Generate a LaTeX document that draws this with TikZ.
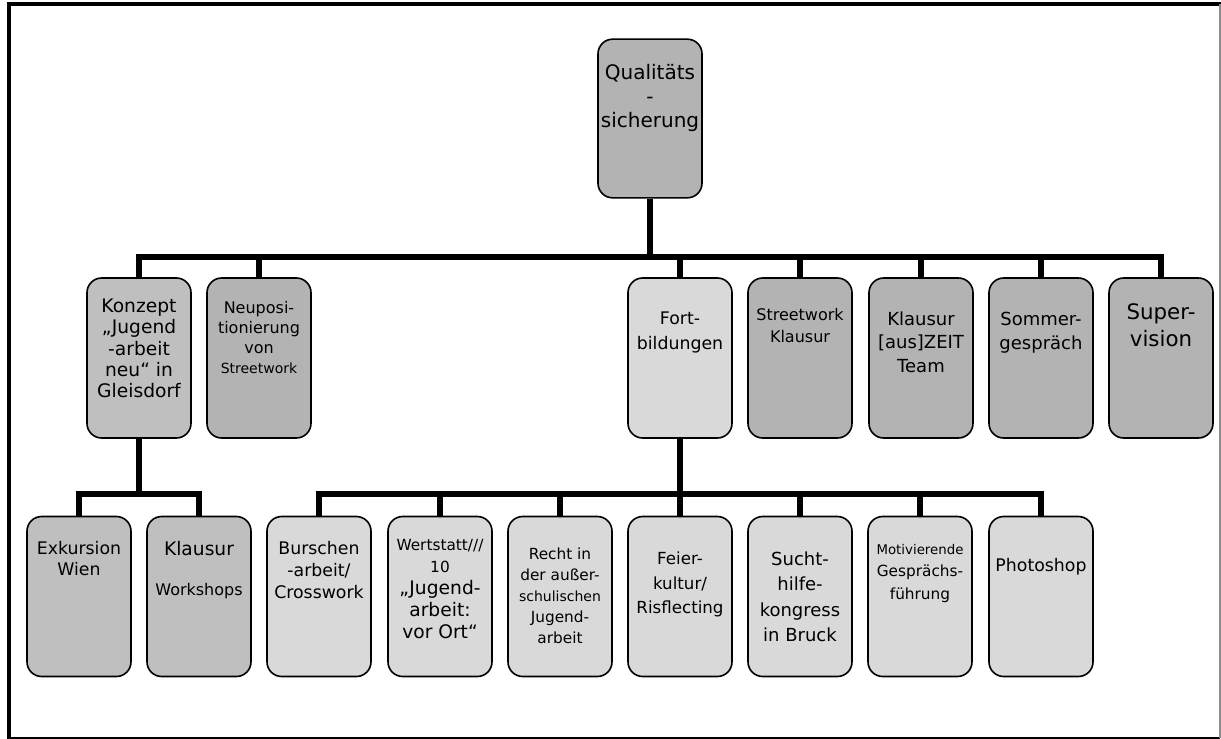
\documentclass[tikz,border=0pt]{standalone}
\usepackage{fontspec}
\setmainfont{DejaVu Sans}
\usetikzlibrary{positioning}
\definecolor{BoxDark}{HTML}{B3B3B3}
\definecolor{BoxMid}{HTML}{BFBFBF}
\definecolor{BoxLight}{HTML}{D9D9D9}
\newcommand{\fsz}[2]{\fontsize{#1}{#2}\selectfont}
\newcommand{\tstrut}{\rule{0pt}{16pt}}
\tikzset{
    % Box styles - rounded, all the same size
    orgbox/.style={
        rectangle,
        rounded corners=11pt,
        draw=black,
        line width=1.2pt,
        minimum width=78pt,
        minimum height=120pt,
        inner sep=0pt
    },
    darkbox/.style={orgbox, fill=BoxDark},
    midbox/.style={orgbox, fill=BoxMid},
    lightbox/.style={orgbox, fill=BoxLight},
    % Text inside the boxes, placed at the first baseline
    boxtext/.style={
        anchor=north,
        yshift=16pt,
        align=center,
        inner sep=0pt,
        execute at begin node=\tstrut
    },
    % Line styles
    connector/.style={
        draw=black,
        line width=4pt,
        line join=miter
    },
    frameline/.style={
        draw=black,
        line width=3pt
    }
}

\begin{document}
\begin{tikzpicture}[x=0.75pt, y=-0.75pt]
    \useasboundingbox (0,0) rectangle (1221,739);

    % Frame
    \draw[frameline] (1221,4) -- (9,4) -- (9,739);
    \draw[line width=0.8pt] (9,738) -- (1220,738);
    \draw[line width=0.8pt, black!45] (1220,4) -- (1220,738);

    % Top
    \node[darkbox, minimum height=119pt] (root) at (650,118.5) {};
    \node[boxtext, font=\fsz{15}{18}] (rootT) at (650,85) {Qualitäts\\-\\sicherung};

    % First level
    \node[midbox] (konzept) at (139,358) {};
    \node[darkbox] (neu) at (259,358) {};
    \node[lightbox] (fort) at (680,358) {};
    \node[darkbox] (stw) at (800,358) {};
    \node[darkbox] (klaus) at (921,358) {};
    \node[darkbox] (sommer) at (1041,358) {};
    \node[darkbox] (super) at (1161,358) {};

    \node[boxtext, font=\fsz{14}{16}] (konzeptT) at (139,320) {Konzept\\„Jugend\\-arbeit\\neu“ in\\Gleisdorf};
    \node[boxtext, font=\fsz{12}{15}] (neuT) at (259,322) {Neuposi-\\tionierung\\von\\{\fsz{10.5}{15}Streetwork}};
    \node[boxtext, font=\fsz{13}{18.5}] (fortT) at (680,333) {Fort-\\bildungen};
    \node[boxtext, font=\fsz{12}{17}] (stwT) at (800,329) {Streetwork\\Klausur};
    \node[boxtext, font=\fsz{13.5}{17.5}] (klausT) at (921,333) {Klausur\\{[aus]ZEIT}\\Team};
    \node[boxtext, font=\fsz{13.5}{18}] (sommerT) at (1041,333) {Sommer-\\gespräch};
    \node[boxtext, font=\fsz{16}{20}] (superT) at (1161,325) {Super-\\vision};

    % Second level
    \node[midbox] (exk) at (79,596.5) {};
    \node[midbox] (klausw) at (199,596.5) {};
    \node[lightbox] (bursch) at (319,596.5) {};
    \node[lightbox] (wert) at (440,596.5) {};
    \node[lightbox] (recht) at (560,596.5) {};
    \node[lightbox] (feier) at (680,596.5) {};
    \node[lightbox] (sucht) at (800,596.5) {};
    \node[lightbox] (motiv) at (920,596.5) {};
    \node[lightbox] (photo) at (1041,596.5) {};

    \node[boxtext, font=\fsz{13}{16}] (exkT) at (79,562) {Exkursion\\Wien};
    \node[boxtext, font=\fsz{14}{16}] (klauswT) at (199,562) {Klausur\\[14pt]{\fsz{12}{16}Workshops}};
    \node[boxtext, font=\fsz{13}{16.5}] (burschT) at (319,562) {Burschen\\-arbeit/\\Crosswork};
    \node[boxtext, font=\fsz{14}{16.5}] (wertT) at (440,560) {{\fsz{11.5}{12}Wertstatt///}\\{\fsz{11.5}{12}10}\\„Jugend-\\arbeit:\\vor Ort“};
    \node[boxtext, font=\fsz{11.5}{15.8}] (rechtT) at (560,569) {Recht in\\der außer-\\{\fsz{10.5}{15.8}schulischen}\\Jugend-\\arbeit};
    \node[boxtext, font=\fsz{12.5}{18.5}] (feierT) at (680,573) {Feier-\\kultur/\\Risflecting};
    \node[boxtext, font=\fsz{13.5}{19}] (suchtT) at (800,573) {Sucht-\\hilfe-\\kongress\\in Bruck};
    \node[boxtext, font=\fsz{11.5}{17}] (motivT) at (920,565) {{\fsz{10}{12}Motivierende}\\Gesprächs-\\führung};
    \node[boxtext, font=\fsz{13}{16}] (photoT) at (1041,571) {Photoshop};

    % Connectors, first level
    \coordinate (bar1) at (650,257);
    \draw[connector] (root.south) -- (bar1);
    \draw[connector] (konzept.north) |- (bar1) -| (super.north);
    \foreach \n in {neu,fort,stw,klaus,sommer}
        \draw[connector] (\n.north) -- (\n.north |- bar1);

    % Connectors, second level
    \coordinate (bar2) at (139,494);
    \coordinate (bar3) at (680,494);
    \draw[connector] (konzept.south) -- (bar2);
    \draw[connector] (exk.north) |- (bar2) -| (klausw.north);
    \draw[connector] (fort.south) -- (bar3);
    \draw[connector] (bursch.north) |- (bar3) -| (photo.north);
    \foreach \n in {wert,recht,feier,sucht,motiv}
        \draw[connector] (\n.north) -- (\n.north |- bar3);
\end{tikzpicture}
\end{document}
